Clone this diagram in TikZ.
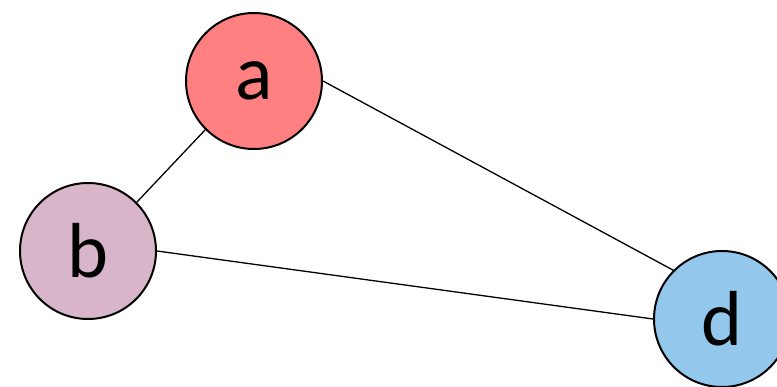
\documentclass[tikz,border=0pt]{standalone}
\usepackage{fontspec}
\setmainfont{Carlito}
\definecolor{ca}{RGB}{255,128,128}
\definecolor{cb}{RGB}{216,181,200}
\definecolor{cd}{RGB}{147,199,236}
\begin{document}
\begin{tikzpicture}[x=1pt,y=-1pt,
  vert/.style={circle,draw=black,line width=2pt,minimum size=136pt,inner sep=0pt,font=\fontsize{78}{80}\selectfont},
  conn/.style={line width=1.3pt}]
\useasboundingbox (0,0) rectangle (777,387);
\node[vert,fill=ca] (a) at (254,81) {a};
\node[vert,fill=cb] (b) at (88,251) {b};
\node[vert,fill=cd] (d) at (722,319) {d};
\draw[conn] (a.south west) -- (b.north east);
\draw[conn] (a.east) -- (d.north west);
\draw[conn] (b.east) -- (d.west);
\end{tikzpicture}
\end{document}
